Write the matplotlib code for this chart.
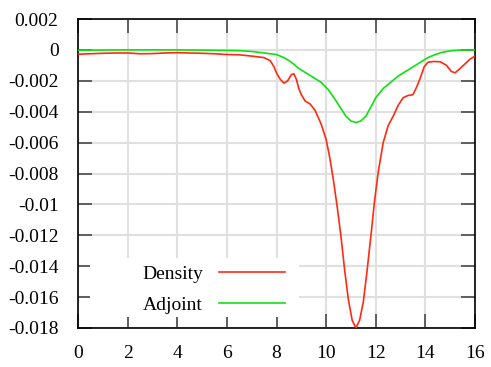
import matplotlib
matplotlib.use('Agg')
import matplotlib.pyplot as plt
import matplotlib.patches as mpatches

# ---- data ----
density_x = [0, 0.5, 1, 1.5, 2, 2.5, 3, 3.5, 4, 4.5, 5, 5.5, 6, 6.5, 7, 7.5,
             7.75, 7.9, 8.0, 8.15, 8.3, 8.45, 8.6, 8.7, 8.8, 8.9, 9.0, 9.15,
             9.35, 9.55, 9.8, 10.0, 10.15, 10.3, 10.45, 10.6, 10.75, 10.9,
             11.05, 11.2, 11.35, 11.5, 11.65, 11.8, 11.95, 12.1, 12.3, 12.5,
             12.7, 12.9, 13.1, 13.3, 13.5, 13.65, 13.8, 13.95, 14.1, 14.35,
             14.6, 14.85, 15.05, 15.2, 15.4, 15.6, 15.8, 16.0]
density_y = [-0.00028, -0.00025, -0.00022, -0.0002, -0.0002, -0.00025, -0.00024,
             -0.0002, -0.00018, -0.0002, -0.00022, -0.00025, -0.0003, -0.00032,
             -0.0004, -0.0005, -0.0007, -0.0011, -0.0015, -0.0019, -0.00215,
             -0.002, -0.0016, -0.00155, -0.0019, -0.0025, -0.0029, -0.0033,
             -0.0035, -0.0039, -0.0048, -0.0058, -0.0070, -0.0085, -0.0102,
             -0.0121, -0.0143, -0.0162, -0.0175, -0.0180, -0.0175, -0.0163,
             -0.0143, -0.0121, -0.0098, -0.0079, -0.0060, -0.0049, -0.0043,
             -0.0036, -0.0031, -0.00295, -0.0029, -0.0024, -0.0018, -0.0011,
             -0.0008, -0.00075, -0.00077, -0.0010, -0.0014, -0.00148, -0.0012,
             -0.0009, -0.0006, -0.0004]

adjoint_x = [0, 2, 4, 6, 6.5, 7, 7.5, 8, 8.3, 8.6, 8.9, 9.2, 9.5, 9.8, 10.1,
             10.4, 10.6, 10.8, 11.0, 11.2, 11.4, 11.6, 11.8, 12.0, 12.3, 12.6,
             12.9, 13.2, 13.5, 13.8, 14.1, 14.4, 14.7, 15.0, 15.4, 16.0]
adjoint_y = [-0.00002, 0, 0, -0.00003, -0.00005, -0.0001, -0.0002, -0.0003,
             -0.0005, -0.0008, -0.0012, -0.0015, -0.0018, -0.0021, -0.0026,
             -0.0033, -0.0038, -0.0043, -0.0046, -0.0047, -0.0046, -0.0043,
             -0.0037, -0.0031, -0.0025, -0.0021, -0.0017, -0.0014, -0.0011,
             -0.0008, -0.0005, -0.0003, -0.00015, -0.00006, -0.00001, 0]

x_ticks = [0, 2, 4, 6, 8, 10, 12, 14, 16]
y_ticks = [0.002, 0, -0.002, -0.004, -0.006, -0.008, -0.01, -0.012,
           -0.014, -0.016, -0.018]
y_labels = ['0.002', '0', '-0.002', '-0.004', '-0.006', '-0.008', '-0.01',
            '-0.012', '-0.014', '-0.016', '-0.018']

plt.rcParams['font.family'] = ['Liberation Serif', 'DejaVu Serif']
plt.rcParams['font.size'] = 14

fig = plt.figure(figsize=(4.91, 3.67), dpi=100)
ax = fig.add_axes([78 / 491, 1 - 328 / 367, 397 / 491, 309 / 367])

ax.plot(density_x, density_y, color='#ff2a10', lw=1.2, label='Density', zorder=3)
ax.plot(adjoint_x, adjoint_y, color='#10e010', lw=1.2, label='Adjoint', zorder=3)

ax.set_xlim(0, 16)
ax.set_ylim(-0.018, 0.002)
ax.set_xticks(x_ticks)
ax.set_yticks(y_ticks)
ax.set_yticklabels(y_labels)

ax.set_axisbelow(True)
ax.grid(True, color='#e0e0e0', lw=1.5)
ax.tick_params(direction='in', length=10, width=1.3, color='#555555',
               top=True, right=True, labelsize=14)
ax.tick_params(axis='x', pad=12)
ax.tick_params(axis='y', pad=14)
for s in ax.spines.values():
    s.set_linewidth(1.2)

# white box behind the key, like gnuplot's opaque key
ax.add_patch(mpatches.Rectangle((0.03, 0.035), 0.527, 0.1915,
                                transform=ax.transAxes, facecolor='white',
                                edgecolor='none', zorder=1))

ax.legend(loc='lower right', bbox_to_anchor=(0.521, 0.045), frameon=False,
          markerfirst=False, handlelength=3.4, handletextpad=0.8,
          labelspacing=0.68, borderpad=0, borderaxespad=0, fontsize=14)

fig.savefig('out.png', dpi=100)
